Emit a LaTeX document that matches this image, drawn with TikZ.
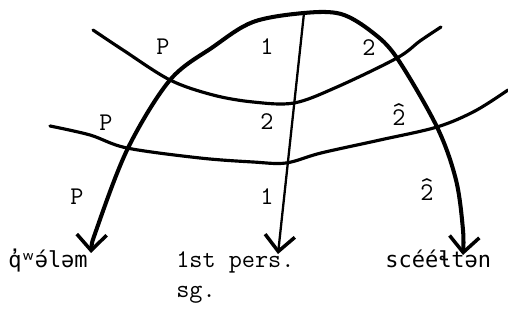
\documentclass[tikz,border=0pt]{standalone}
\usepackage{fontspec}
\newfontfamily\ipafont{DejaVu Sans Mono}
\usetikzlibrary{arrows.meta}
\newcommand\hattwo{\ooalign{2\cr\hidewidth\raisebox{0.55ex}{\textasciicircum}\hidewidth\cr}}
\tikzset{
  tw/.style={font=\ttfamily\fontsize{14.5}{17}\selectfont, inner sep=0pt},
  ipa/.style={font=\ipafont\fontsize{12.5}{15}\selectfont, inner sep=0pt},
  arc/.style={line width=2.3pt, line cap=round, line join=round},
  rule/.style={line width=1.8pt, line cap=round, line join=round},
  thin/.style={line width=1.3pt, line cap=round},
  barb/.style={-{Straight Barb[length=9pt,width=17pt,line width=2pt]}},
  barbs/.style={{Straight Barb[length=9pt,width=17pt,line width=2pt]}-{Straight Barb[length=9pt,width=17pt,line width=2pt]}},
}

\begin{document}
\begin{tikzpicture}[x=0.02cm, y=-0.02cm]
  \useasboundingbox (0,0) rectangle (508,320);

  % Word labels
  \node[ipa, anchor=base west] (qw)  at (8,268)   {q̓ʷə́ləm};
  \node[tw, anchor=base west] (pers) at (176,268) {1st pers.};
  \node[tw, anchor=base west] (sg)   at (176,298) {sg.};
  \node[ipa, anchor=base west] (sce) at (385,268) {scééɬtən};

  % Arrow tips
  \coordinate (tipL) at (91,253);
  \coordinate (tipM) at (278,254);
  \coordinate (tipR) at (463,255);
  \coordinate (topM) at (304,13);

  % Big arc
  \draw[arc, barbs] plot[smooth, tension=0.55] coordinates {
    (tipL) (97,228) (128,148) (170,80) (213,47) (253,22) (304,13)
    (341,14) (372,32) (397,58) (437,127) (456,180) (463,230) (tipR)};

  % Middle line
  \draw[thin, barb] (topM) -- (tipM);

  % Cross lines
  \draw[rule] plot[smooth, tension=0.55] coordinates {
    (93,30) (123,50) (170,80) (213,95) (253,102) (294,103)
    (337,87) (397,58) (420,41) (441,27)};
  \draw[rule] plot[smooth, tension=0.55] coordinates {
    (50,126) (90,135) (127,148) (200,158) (253,162) (286,163)
    (321,153) (380,140) (437,127) (475,111) (508,90)};

  % Cell labels
  \node[tw] (p1) at (163,47)  {P};
  \node[tw] (p2) at (106,123) {P};
  \node[tw] (p3) at (77,197)  {P};
  \node[tw] (a1) at (267,47)  {1};
  \node[tw] (a2) at (369,48)  {2};
  \node[tw] (b1) at (267,122) {2};
  \node[tw] (b2) at (399,118) {\hattwo};
  \node[tw] (c1) at (267,197) {1};
  \node[tw] (c2) at (427,193) {\hattwo};
\end{tikzpicture}
\end{document}
